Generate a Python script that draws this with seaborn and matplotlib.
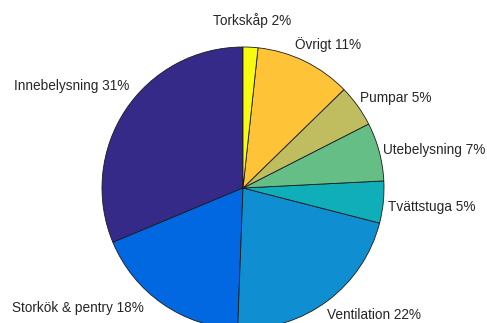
import matplotlib
matplotlib.use("Agg")
import matplotlib.pyplot as plt
import seaborn as sns

# Energy use by category (share of total, %), drawn counter-clockwise from 12 o'clock
categories = ["Innebelysning", "Storkök & pentry", "Ventilation", "Tvättstuga",
              "Utebelysning", "Pumpar", "Övrigt", "Torkskåp"]
shares = [31.3, 18.1, 21.6, 4.8, 6.7, 4.8, 11.0, 1.7]

# Parula colormap samples, one per slice
colors = ["#352a87", "#0268e1", "#108ed2", "#0faeb9",
          "#65be86", "#c0bc60", "#ffc337", "#f9fb0e"]

# Label anchors (in pie-radius units) and horizontal alignment
label_pos = [(-0.809, 0.723, "right"), (-0.702, -0.851, "right"),
             (0.596, -0.900, "left"), (1.028, -0.135, "left"),
             (0.993, 0.270, "left"), (0.830, 0.638, "left"),
             (0.369, 1.021, "left"), (0.064, 1.191, "center")]

sns.set_theme(style="white")
plt.rcParams["font.family"] = ["Liberation Sans", "DejaVu Sans"]

fig = plt.figure(figsize=(4.87, 3.23), dpi=100)
ax = fig.add_axes([0, 0, 1, 1])

ax.pie(shares, colors=colors, startangle=90, counterclock=True,
       wedgeprops=dict(edgecolor="#1a1a1a", linewidth=0.6))

for name, val, (x, y, ha) in zip(categories, shares, label_pos):
    ax.text(x, y, f"{name} {round(val)}%", ha=ha, va="center",
            fontsize=9.8, color="#262626")

ax.set_xlim(-243 / 141, 244 / 141)
ax.set_ylim(-135 / 141, 188 / 141)
ax.set_aspect("auto")
ax.axis("off")

fig.savefig("out.png", dpi=100)
